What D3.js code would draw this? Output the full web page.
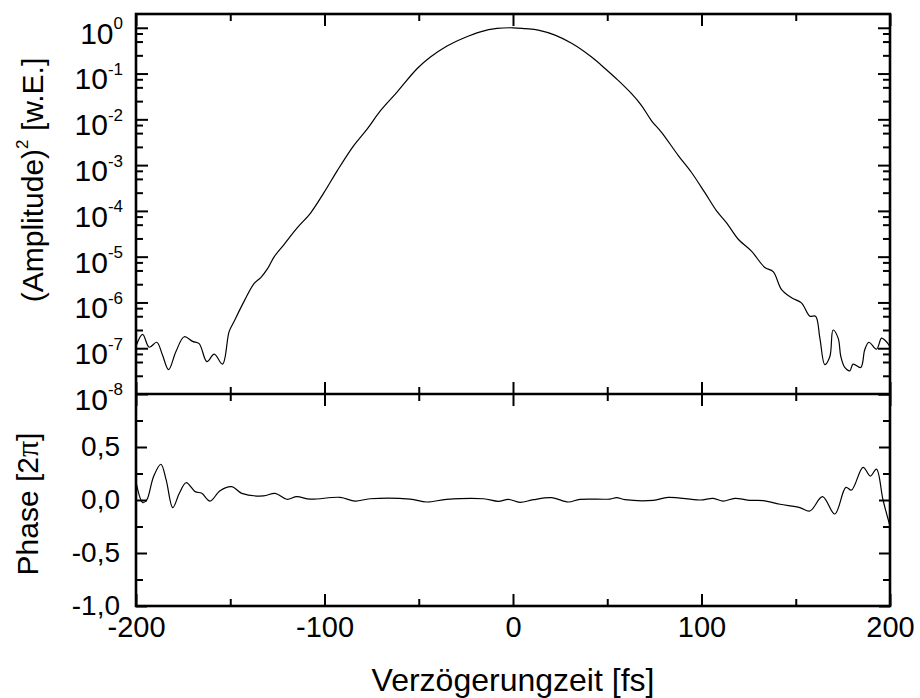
<!DOCTYPE html>
<html>
<head>
<meta charset="utf-8">
<script src="https://cdn.jsdelivr.net/npm/d3@7"></script>
<style>
  body { margin: 0; background: #fff; }
  svg text { font-family: "Liberation Sans", Arial, sans-serif; fill: #000; }
</style>
</head>
<body>
<div id="chart"></div>
<script>
// amplitude squared (log scale)
var ampTime = [-200, -196.5, -193, -189, -186, -182.7, -178.8, -174.4, -170, -166.5, -162.4, -158.5, -154.1,
  -150.6, -147.9, -142.6, -137.3, -133.8, -130.3, -126.8, -121.4, -114.4, -107.3, -100.3, -93.2, -84.4,
  -77.3, -70.3, -61.4, -50.8, -43.8, -35, -26.1, -17.3, -8.5, 0,
  6.4, 13.4, 22.3, 31.1, 41.7, 48.8, 55.8, 62.9, 68.2, 73.5, 78.8, 87.7, 94.7, 101.8, 108, 113.3,
  119.5, 126.5, 133.6, 138, 142.5, 147.8, 153, 157.5, 160.5, 162.8, 165.4, 168.1, 169.8, 172.5,
  173.9, 176, 178.7, 180.4, 184.5, 186.6, 188.8, 192.8, 195.5, 197.2, 200]
var ampValue = [1.1e-7, 2.0e-7, 1.05e-7, 1.35e-7, 7.2e-8, 3.4e-8, 8.5e-8, 1.78e-7, 1.41e-7, 1.26e-7, 5.1e-8, 7.4e-8, 4.5e-8,
  2.3e-7, 3.9e-7, 1.07e-6, 2.6e-6, 3.5e-6, 5.4e-6, 9.8e-6, 1.86e-5, 4.3e-5, 9.1e-5, 2.5e-4, 7.6e-4, 2.7e-3,
  6.2e-3, 0.0155, 0.040, 0.129, 0.229, 0.40, 0.60, 0.817, 0.966, 1,
  0.955, 0.891, 0.69, 0.457, 0.229, 0.129, 0.0708, 0.0363, 0.020, 9.3e-3, 5.2e-3, 1.62e-3, 6.9e-4, 2.5e-4, 1.0e-4, 5.5e-5,
  2.4e-5, 1.32e-5, 5.8e-6, 4.7e-6, 1.9e-6, 1.26e-6, 9.8e-7, 5.0e-7, 5.0e-7, 1.66e-7, 4.4e-8, 6.6e-8, 2.5e-7, 1.66e-7,
  6.6e-8, 3.8e-8, 3.2e-8, 4.5e-8, 3.8e-8, 9.3e-8, 1.35e-7, 9.5e-8, 1.66e-7, 1.51e-7, 1.1e-7]

// phase in units of 2pi
var phaseTime = [-200, -196.4, -194.3, -190.7, -186.8, -184, -180.5, -177, -173.4, -168.6, -165.1, -160.7, -155.4,
  -149.2, -143.9, -132.4, -126.2, -120, -114.7, -107.6, -91.7, -83.8, -75.8, -54.6, -45.8, -35.2, -15.7,
  -7.8, -2.5, 3.7, 10.8, 20.5, 29.3, 35.5, 51.4, 55, 59.4, 74.4, 82.3, 99.2, 106.2, 111.5, 117.7, 125.7,
  132.7, 141.6, 152.2, 157.5, 164.2, 170.7, 176.6, 179.6, 185.7, 189.6, 192.8, 196.3, 200]
var phaseValue = [0.17, -0.025, 0, 0.22, 0.337, 0.19, -0.072, 0.063, 0.163, 0.079, 0.063, -0.01, 0.088,
  0.126, 0.063, 0.038, 0.063, 0.007, 0.031, 0.008, 0.025, -0.01, 0.012, 0.009, -0.019, 0.006, 0.012,
  -0.013, 0.006, -0.022, 0.003, 0.022, -0.019, 0.006, 0.009, 0.022, 0.003, -0.003, 0.025, 0, 0.016, -0.01, 0.016, -0.003,
  -0.006, -0.04, -0.072, -0.104, 0.031, -0.132, 0.119, 0.094, 0.308, 0.226, 0.292, 0, -0.245]

var xMajor = [-200, -100, 0, 100, 200]
var xMinor = [-150, -50, 50, 150]
var ampMajor = [1e-8, 1e-7, 1e-6, 1e-5, 1e-4, 1e-3, 1e-2, 1e-1, 1e0]
var ampMinorSteps = [2.5, 5, 7.5]
var phaseMajor = [-1, -0.5, 0, 0.5, 1]
var phaseMinor = [-0.75, -0.25, 0.25, 0.75]
var phaseLabels = ['-1,0', '-0,5', '0,0', '0,5', '']

var W = 920, H = 698
var pLeft = 136, pRight = 890, pTop = 14, pMid = 394, pBottom = 606

var svg = d3.select('#chart').append('svg')
  .attr('width', W)
  .attr('height', H)

var x = d3.scaleLinear().domain([-200, 200]).range([pLeft, pRight])
var yAmp = d3.scaleLog().domain([1e-8, 2]).range([pMid, pTop])
var yPh = d3.scaleLinear().domain([-1, 1]).range([pBottom, pMid])

var ampMinor = []
ampMajor.forEach(function(d) {
  ampMinorSteps.forEach(function(s) { ampMinor.push(d * s / 10) })
})
ampMinor = ampMinor.filter(function(d) { return d > 1e-8 && d < 2 })

function styleAxis(g) {
  g.select('.domain').remove()
  g.selectAll('line').attr('stroke', '#000').attr('stroke-width', 2)
  g.selectAll('text').style('font-size', '28px')
}

function tickAxis(axis, y0, x0, values, size, fmt) {
  var g = svg.append('g')
    .attr('transform', 'translate(' + x0 + ',' + y0 + ')')
    .call(axis.tickValues(values).tickSize(size).tickFormat(fmt || function() { return '' }))
  styleAxis(g)
  return g
}

// x ticks on every horizontal frame line
tickAxis(d3.axisTop(x), pTop, 0, xMajor, -12)
tickAxis(d3.axisTop(x), pTop, 0, xMinor, -7)
tickAxis(d3.axisBottom(x), pMid, 0, xMajor, -12)
tickAxis(d3.axisBottom(x), pMid, 0, xMinor, -7)
tickAxis(d3.axisTop(x), pMid, 0, xMajor, -12)
tickAxis(d3.axisTop(x), pMid, 0, xMinor, -7)
var xb = tickAxis(d3.axisBottom(x).tickPadding(10), pBottom, 0, xMajor, -12, function(d) { return d })
xb.selectAll('text').attr('dy', '0.71em').style('font-size', '29px')
tickAxis(d3.axisBottom(x), pBottom, 0, xMinor, -7)

// log axis, upper panel
var ya = tickAxis(d3.axisLeft(yAmp).tickPadding(13), 0, pLeft, ampMajor, -12, function(d) { return 'x' })
ya.selectAll('text').each(function(d) {
  var t = d3.select(this).text(null).attr('dy', '0.55em')
  t.append('tspan').text('10').style('font-size', '30px')
  t.append('tspan').text(Math.round(Math.log10(d))).style('font-size', '17px').attr('dy', '-0.85em')
})
tickAxis(d3.axisLeft(yAmp), 0, pLeft, ampMinor, -7)
tickAxis(d3.axisRight(yAmp), 0, pRight, ampMajor, -12)
tickAxis(d3.axisRight(yAmp), 0, pRight, ampMinor, -7)

// phase axis, lower panel
tickAxis(d3.axisLeft(yPh).tickPadding(16), 0, pLeft, phaseMajor.slice(0, 4), -11, function(d, i) { return phaseLabels[i] })
tickAxis(d3.axisLeft(yPh), 0, pLeft, phaseMinor, -7)
tickAxis(d3.axisRight(yPh), 0, pRight, phaseMajor, -11)
tickAxis(d3.axisRight(yPh), 0, pRight, phaseMinor, -7)

// curves
var ampLine = d3.line()
  .x(function(d, i) { return x(ampTime[i]) })
  .y(function(d) { return yAmp(d) })
  .curve(d3.curveCatmullRom.alpha(0.5))
svg.append('path')
  .datum(ampValue)
  .attr('d', ampLine)
  .attr('fill', 'none')
  .attr('stroke', '#000')
  .attr('stroke-width', 1.2)

var phLine = d3.line()
  .x(function(d, i) { return x(phaseTime[i]) })
  .y(function(d) { return yPh(d) })
  .curve(d3.curveCatmullRom.alpha(0.5))
svg.append('path')
  .datum(phaseValue)
  .attr('d', phLine)
  .attr('fill', 'none')
  .attr('stroke', '#000')
  .attr('stroke-width', 1.2)

// frame
svg.append('rect')
  .attr('x', pLeft).attr('y', pTop)
  .attr('width', pRight - pLeft).attr('height', pBottom - pTop)
  .attr('fill', 'none').attr('stroke', '#000').attr('stroke-width', 2.6)
svg.append('line')
  .attr('x1', pLeft).attr('x2', pRight).attr('y1', pMid).attr('y2', pMid)
  .attr('stroke', '#000').attr('stroke-width', 2.6)

// titles
var t1 = svg.append('text')
  .attr('transform', 'translate(43,180) rotate(-90)')
  .attr('text-anchor', 'middle')
  .style('font-size', '30px')
t1.append('tspan').text('(Amplitude)')
t1.append('tspan').text('2').style('font-size', '17px').attr('dy', '-0.9em')
t1.append('tspan').text(' [w.E.]').attr('dy', '0.51em')

var t2 = svg.append('text')
  .attr('transform', 'translate(38,504) rotate(-90)')
  .attr('text-anchor', 'middle')
  .style('font-size', '30px')
t2.append('tspan').text('Phase [2')
t2.append('tspan').text('π').style('font-family', '"Liberation Serif", serif').style('font-size', '32px')
t2.append('tspan').text(']')

svg.append('text')
  .attr('x', (pLeft + pRight) / 2)
  .attr('y', 691)
  .attr('text-anchor', 'middle')
  .style('font-size', '32px')
  .text('Verzögerungzeit [fs]')
</script>
</body>
</html>
